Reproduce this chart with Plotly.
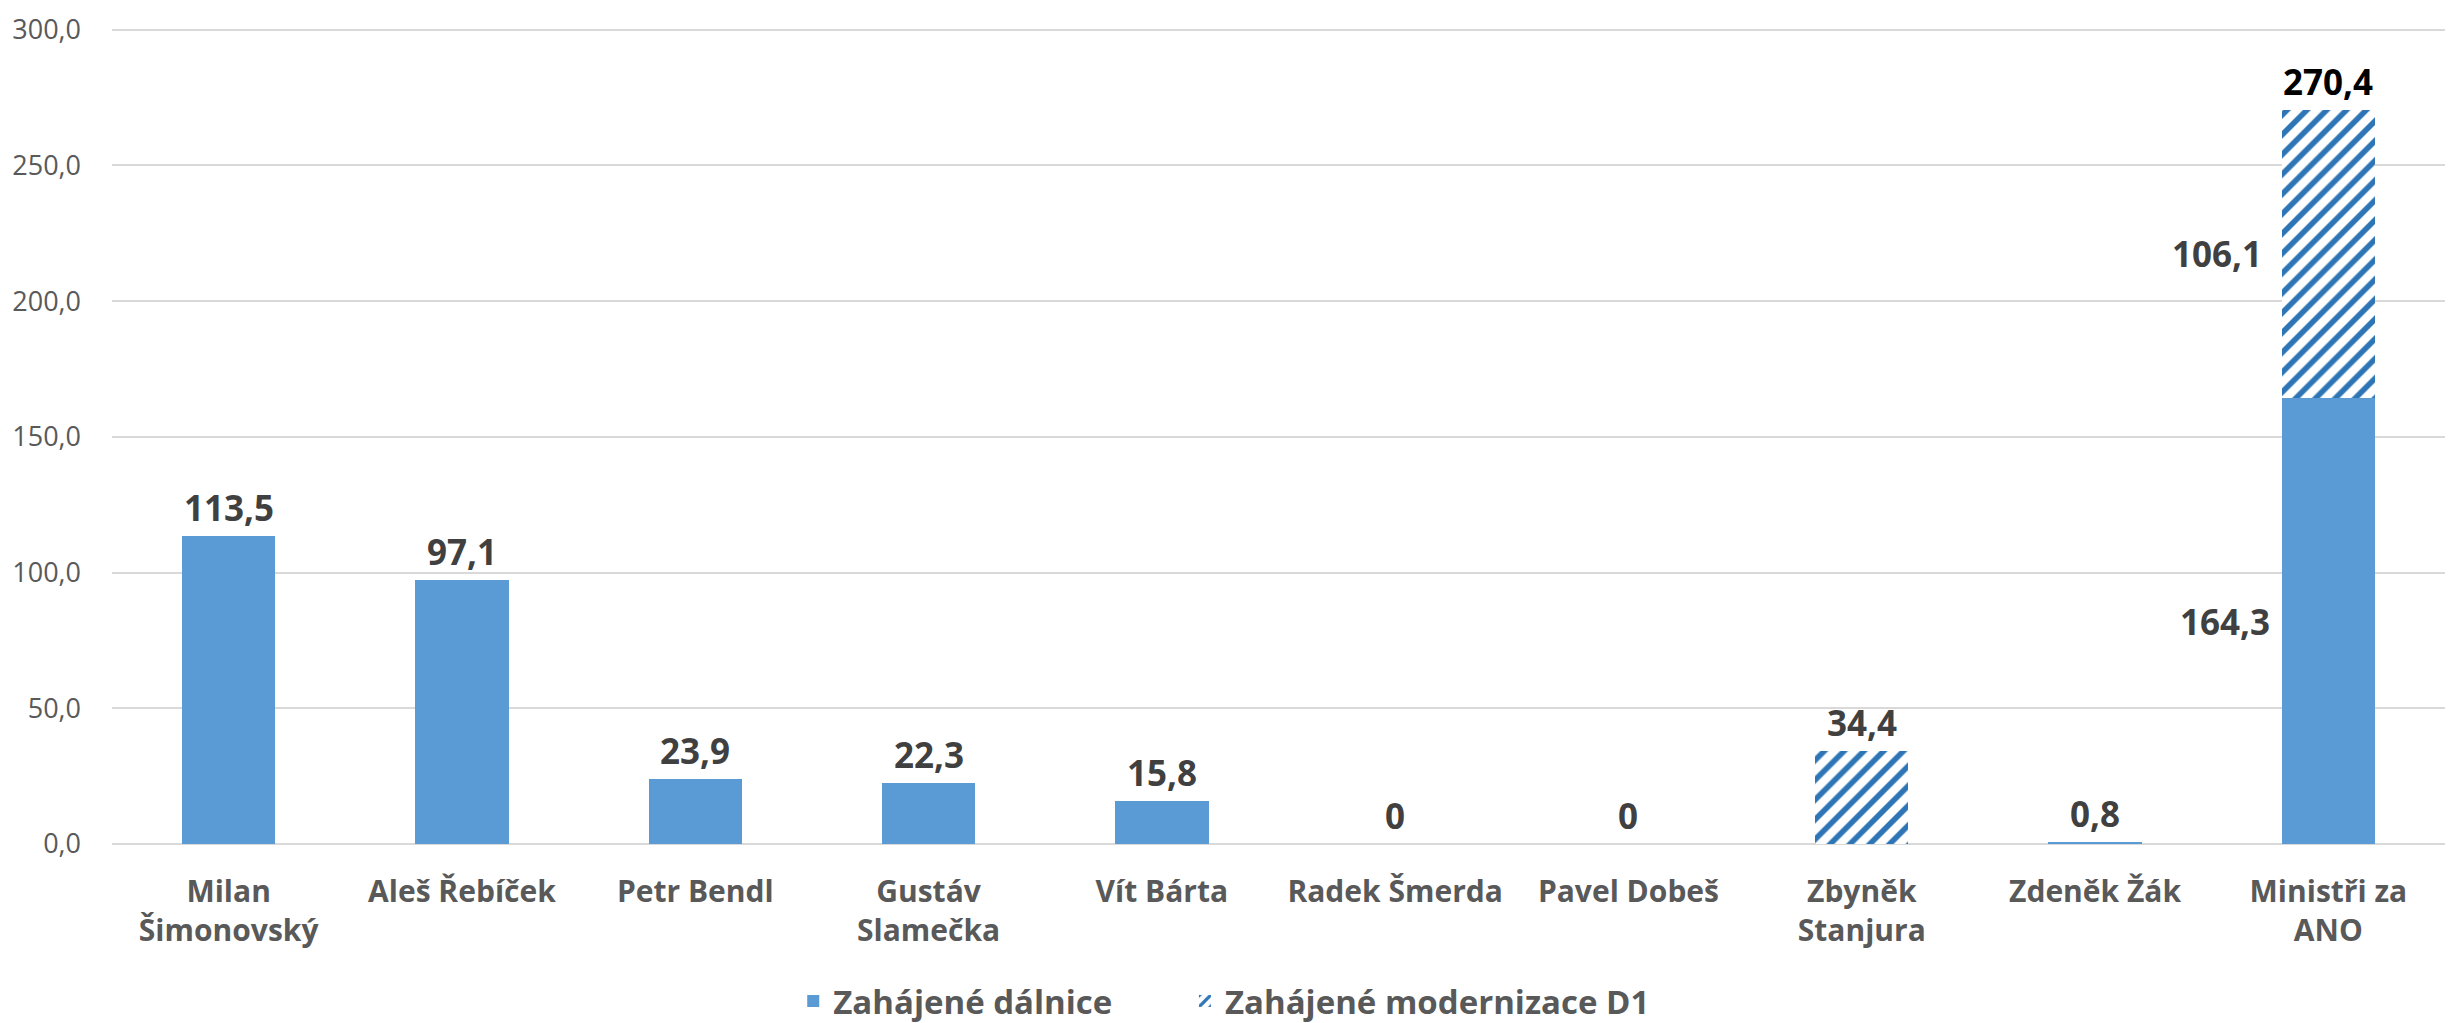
import plotly.graph_objects as go

categories = ["Milan<br>Šimonovský", "Aleš Řebíček", "Petr Bendl", "Gustáv<br>Slamečka",
              "Vít Bárta", "Radek Šmerda", "Pavel Dobeš", "Zbyněk<br>Stanjura",
              "Zdeněk Žák", "Ministři za<br>ANO"]
dalnice = [113.5, 97.1, 23.9, 22.3, 15.8, 0, 0, 0, 0.8, 164.3]
modernizace_d1 = [0, 0, 0, 0, 0, 0, 0, 34.4, 0, 106.1]
y_ticks = [0, 50, 100, 150, 200, 250, 300]
series_names = ["Zahájené dálnice", "Zahájené modernizace D1"]


def fmt(v):
    if v == 0:
        return "0"
    return f"{v:.1f}".replace(".", ",")


FONT = "Open Sans"
SOLID = "#5B9BD5"
HATCH = "#2E75B6"

fig = go.Figure()
fig.add_trace(go.Bar(
    x=categories, y=dalnice, name=f"<b>{series_names[0]}</b>",
    marker=dict(color=SOLID, line=dict(width=0)), legend="legend",
))
fig.add_trace(go.Bar(
    x=categories, y=modernizace_d1, name=f"<b>{series_names[1]}</b>",
    marker=dict(color="white", line=dict(width=0),
                pattern=dict(shape="/", fgcolor=HATCH, bgcolor="white",
                             size=14, solidity=0.4, fillmode="replace")),
    legend="legend2",
))

annotations = []
for cat, d, m in zip(categories, dalnice, modernizace_d1):
    total = d + m
    both = d > 0 and m > 0
    annotations.append(dict(
        x=cat, y=total, text=f"<b>{fmt(total)}</b>", showarrow=False,
        xref="x", yref="y", yanchor="bottom", yshift=3,
        font=dict(family=FONT, size=35, color="#000000" if both else "#404040"),
    ))
    if both:
        annotations.append(dict(
            x=cat, y=d / 2, text=f"<b>{fmt(d)}</b>", showarrow=False,
            xref="x", yref="y", xanchor="right", yanchor="middle", xshift=-56,
            font=dict(family=FONT, size=35, color="#404040"),
        ))
        annotations.append(dict(
            x=cat, y=d + m / 2, text=f"<b>{fmt(m)}</b>", showarrow=False,
            xref="x", yref="y", xanchor="right", yanchor="middle", xshift=-64,
            font=dict(family=FONT, size=35, color="#404040"),
        ))

legend_font = dict(family=FONT, size=33, color="#595959")

fig.update_layout(
    width=2450, height=1015,
    barmode="stack", bargap=0.6,
    paper_bgcolor="white", plot_bgcolor="white",
    margin=dict(l=104, r=13, t=20, b=179, autoexpand=False),
    separators=", ",
    font=dict(family=FONT, color="#595959"),
    annotations=annotations,
    showlegend=True,
    legend=dict(orientation="h", x=0.292, xanchor="left", y=-0.1924, yanchor="middle",
                font=legend_font),
    legend2=dict(orientation="h", x=0.4599, xanchor="left", y=-0.1924, yanchor="middle",
                 font=legend_font),
    xaxis=dict(showgrid=False, showline=False, ticks="", automargin=False,
               ticklabelstandoff=27,
               tickfont=dict(family=FONT, size=30, color="#595959", weight="bold")),
    yaxis=dict(range=[0, 300.6], tickvals=y_ticks, tickformat=".1f", automargin=False,
               showgrid=True, gridcolor="#D9D9D9", gridwidth=2,
               zeroline=True, zerolinecolor="#D9D9D9", zerolinewidth=2,
               showline=False, ticks="", ticklabelstandoff=30,
               ticklabeloverflow="allow",
               tickfont=dict(family=FONT, size=27, color="#595959")),
)

fig.write_html("out.html")
